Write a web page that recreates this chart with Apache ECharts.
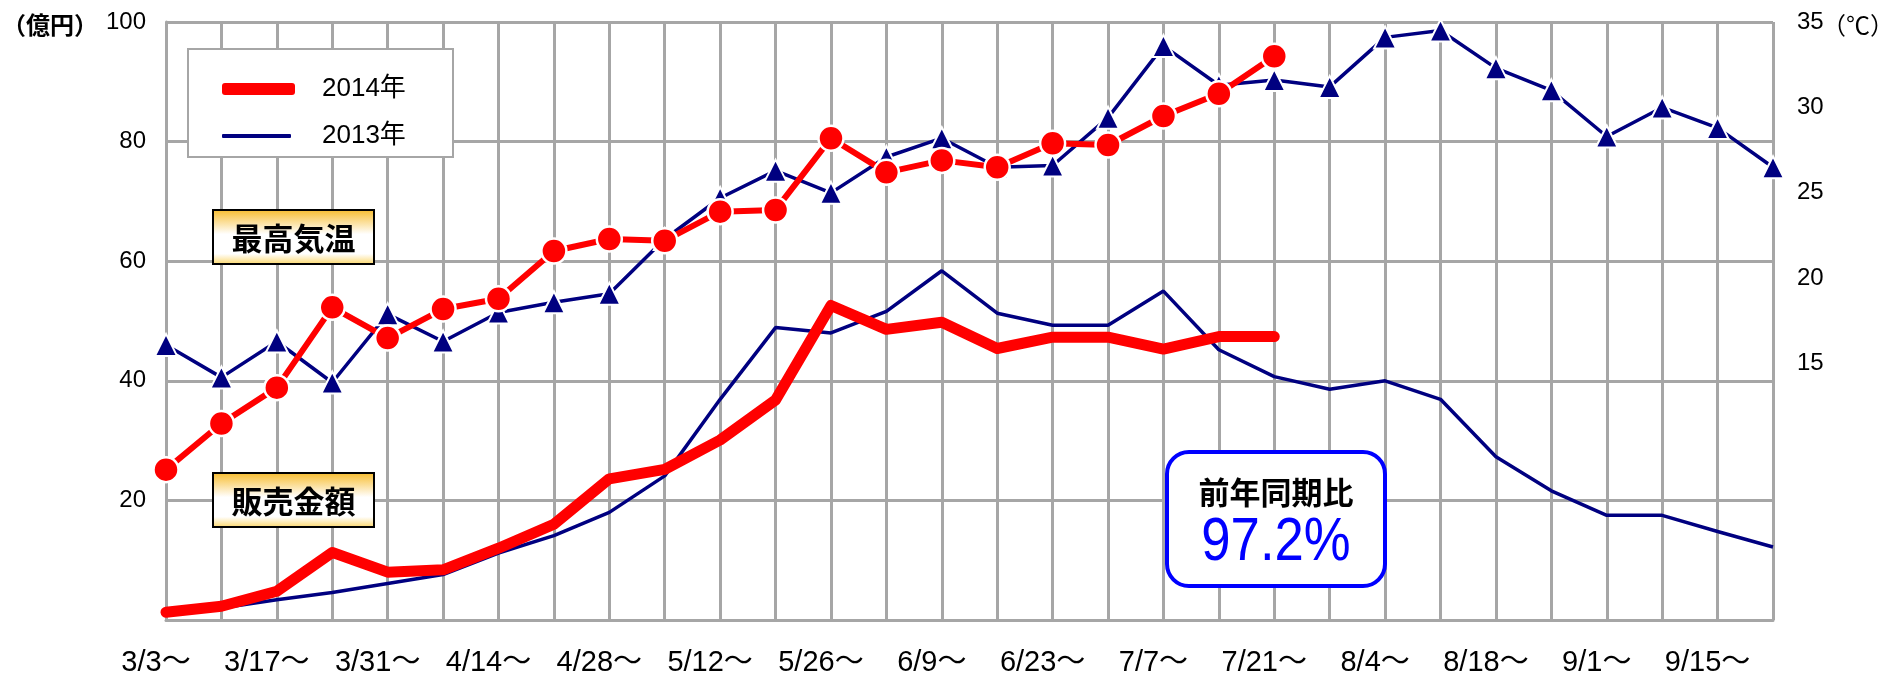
<!DOCTYPE html>
<html>
<head>
<meta charset="utf-8">
<script src="https://cdn.jsdelivr.net/npm/echarts@6/dist/echarts.min.js"></script>
<style>
  html, body { margin: 0; padding: 0; background: #fff; }
  #chart { width: 1887px; height: 678px; }
</style>
</head>
<body>
<div id="chart"></div>
<script>
// Weekly periods (week starting date)
const weeks = ['3/3～','3/10～','3/17～','3/24～','3/31～','4/7～','4/14～','4/21～','4/28～','5/5～',
  '5/12～','5/19～','5/26～','6/2～','6/9～','6/16～','6/23～','6/30～','7/7～','7/14～',
  '7/21～','7/28～','8/4～','8/11～','8/18～','8/25～','9/1～','9/8～','9/15～','9/22～'];

// Sales amount (100 million yen)
const sales2014 = [1.3, 2.3, 4.8, 11.3, 8.0, 8.4, 12.0, 16.0, 23.6, 25.2, 30.1, 36.8, 52.6, 48.6, 49.8, 45.4, 47.3, 47.3, 45.3, 47.4, 47.4];
const sales2013 = [1.2, 2.0, 3.4, 4.6, 6.1, 7.6, 11.2, 14.1, 18.0, 24.1, 36.9, 48.9, 48.0, 51.6, 58.4, 51.3, 49.3, 49.3, 55.0, 45.2,
  40.7, 38.6, 40.0, 36.9, 27.3, 21.6, 17.5, 17.5, 14.8, 12.2];

// Maximum temperature (°C)
const temp2014 = [8.8, 11.5, 13.6, 18.3, 16.5, 18.2, 18.8, 21.6, 22.3, 22.2, 23.9, 24.0, 28.2, 26.2, 26.9, 26.5, 27.9, 27.8, 29.5, 30.8, 33.0];
const temp2013 = [16.1, 14.2, 16.3, 13.9, 17.9, 16.3, 18.0, 18.6, 19.1, 22.3, 24.7, 26.3, 25.0, 27.1, 28.2, 26.5, 26.6, 29.4, 33.6, 31.3,
  31.6, 31.2, 34.1, 34.5, 32.3, 31.0, 28.3, 30.0, 28.8, 26.5];

const yoyRatio = '97.2%';

const GRID = '#a6a6a6';
const RED = '#ff0000';
const NAVY = '#000080';
const NUM_FONT = "'Liberation Sans', 'Noto Sans CJK JP', sans-serif";
const JP_FONT = "'Noto Sans CJK JP', sans-serif";

const chart = echarts.init(document.getElementById('chart'), null, { renderer: 'canvas' });

const tagFill = new echarts.graphic.LinearGradient(0, 0, 0, 1, [
  { offset: 0, color: '#f7bb2a' },
  { offset: 0.45, color: '#ffffff' },
  { offset: 0.8, color: '#ffffff' },
  { offset: 1, color: '#fbd564' }
]);

function tag(x, y, text) {
  return {
    type: 'group', x: x, y: y,
    children: [
      { type: 'rect', z: 20, shape: { x: 0, y: 0, width: 161, height: 54 },
        style: { fill: tagFill, stroke: '#000', lineWidth: 2 } },
      { type: 'text', z: 21, x: 80.5, y: 28,
        style: { text: text, font: 'bold 31px ' + JP_FONT, fill: '#000', textAlign: 'center', textVerticalAlign: 'middle' } }
    ]
  };
}

const option = {
  animation: false,
  backgroundColor: '#fff',
  grid: { left: 166, right: 114, top: 22, bottom: 56, containLabel: false },
  legend: [
    {
      data: [{ name: '2014年', icon: 'roundRect' }],
      left: 222, top: 76, padding: 0,
      itemWidth: 73, itemHeight: 12,
      textStyle: { fontSize: 26, fontFamily: NUM_FONT, color: '#000', padding: [0, 0, 0, 22] },
      z: 20
    },
    {
      data: [{ name: '2013年', icon: 'roundRect' }],
      left: 222, top: 123, padding: 0,
      itemWidth: 69, itemHeight: 4,
      textStyle: { fontSize: 26, fontFamily: NUM_FONT, color: '#000', padding: [0, 0, 0, 26] },
      z: 20
    }
  ],
  xAxis: {
    type: 'category',
    data: weeks,
    boundaryGap: false,
    axisLine: { show: true, lineStyle: { color: GRID, width: 3 } },
    axisTick: { show: false },
    axisLabel: {
      interval: 1, margin: 29, fontSize: 29, fontFamily: NUM_FONT, color: '#000',
      padding: [0, 20, 0, 0]
    },
    splitLine: { show: true, interval: 0, lineStyle: { color: GRID, width: 3 } }
  },
  yAxis: [
    {
      type: 'value', min: 0, max: 100, interval: 20, position: 'left',
      axisLine: { show: true, lineStyle: { color: GRID, width: 3 } },
      axisTick: { show: false },
      axisLabel: {
        margin: 20, fontSize: 24, fontFamily: NUM_FONT, color: '#000', padding: [14, 0, 0, 0],
        formatter: v => (v === 0 ? '' : String(v))
      },
      splitLine: { show: true, lineStyle: { color: GRID, width: 3 } }
    },
    {
      type: 'value', min: 0, max: 35, interval: 5, position: 'right',
      axisLine: { show: false },
      axisTick: { show: false },
      axisLabel: {
        margin: 24, fontSize: 24, fontFamily: NUM_FONT, color: '#000', padding: [14, 0, 0, 0],
        formatter: v => (v >= 15 ? String(v) : '')
      },
      splitLine: { show: false }
    }
  ],
  series: [
    {
      name: '2013年', type: 'line', yAxisIndex: 0, data: sales2013,
      showSymbol: false, symbol: 'none',
      itemStyle: { color: NAVY },
      lineStyle: { color: NAVY, width: 3.5 },
      z: 3
    },
    {
      name: '2014年', type: 'line', yAxisIndex: 0, data: sales2014,
      showSymbol: false, symbol: 'none',
      itemStyle: { color: RED },
      lineStyle: { color: RED, width: 11, cap: 'round', join: 'round' },
      z: 4
    },
    {
      name: '最高気温 2013', type: 'line', yAxisIndex: 1, data: temp2013,
      symbol: 'triangle', symbolSize: 22,
      itemStyle: { color: NAVY, borderColor: '#fff', borderWidth: 2 },
      lineStyle: { color: NAVY, width: 3.5 },
      z: 5
    },
    {
      name: '最高気温 2014', type: 'line', yAxisIndex: 1, data: temp2014,
      symbol: 'circle', symbolSize: 25,
      itemStyle: { color: RED, borderColor: '#fff', borderWidth: 2.5 },
      lineStyle: { color: RED, width: 6 },
      z: 6
    }
  ],
  graphic: [
    // legend frame
    { type: 'rect', z: 10, shape: { x: 188, y: 49, width: 265, height: 108 },
      style: { fill: '#fff', stroke: GRID, lineWidth: 2 } },
    // axis units
    { type: 'text', x: 2, y: 25, z: 20,
      style: { text: '（億円）', font: 'bold 24px ' + JP_FONT, fill: '#000', textVerticalAlign: 'middle' } },
    { type: 'text', x: 1822, y: 25, z: 20,
      style: { text: '（℃）', font: '24px ' + JP_FONT, fill: '#000', textVerticalAlign: 'middle' } },
    tag(213, 210, '最高気温'),
    tag(213, 473, '販売金額'),
    // year-on-year box
    {
      type: 'group', x: 1167, y: 452,
      children: [
        { type: 'rect', z: 20, shape: { x: 0, y: 0, width: 218, height: 134, r: 22 },
          style: { fill: '#fff', stroke: '#0000ff', lineWidth: 4 } },
        { type: 'text', z: 21, x: 109, y: 40,
          style: { text: '前年同期比', font: 'bold 31px ' + JP_FONT, fill: '#000', textAlign: 'center', textVerticalAlign: 'middle' } },
        { type: 'text', z: 21, x: 109, y: 91, scaleX: 0.85,
          style: { text: yoyRatio, font: "62px 'Liberation Sans', sans-serif", fill: '#0000ff', textAlign: 'center', textVerticalAlign: 'middle' } }
      ]
    }
  ]
};

chart.setOption(option);
</script>
</body>
</html>
